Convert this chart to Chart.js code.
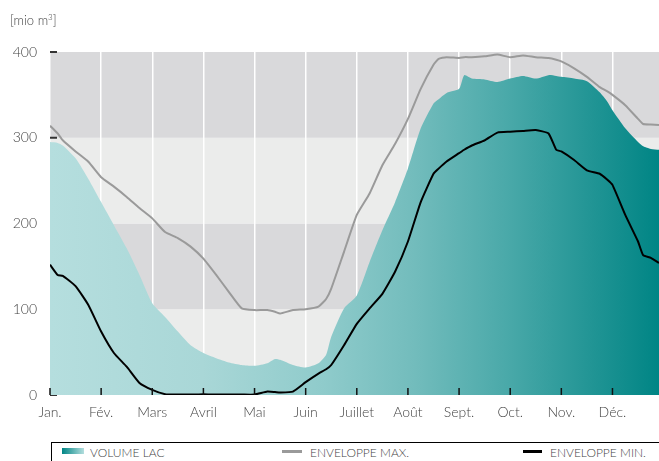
<!DOCTYPE html>
<html>
<head>
<meta charset="utf-8">
<script src="https://cdn.jsdelivr.net/npm/chart.js@4"></script>
<style>
    body { margin: 0; background: #fff; font-family: Lato, "Open Sans", sans-serif; font-weight: 300; color: #444; }
    #wrap { position: relative; width: 659px; height: 461px; overflow: hidden; }
    #chart { position: absolute; left: 0; top: 0; }
    #unit { position: absolute; left: 10px; top: 12px; font-size: 13px; }
    #unit sup { font-size: 8px; }
    #legend { position: absolute; left: 51px; top: 442px; width: 608px; height: 19px;
              border-top: 1.5px solid #000; border-left: 1.5px solid #000; font-size: 12px; }
    .item { position: absolute; top: 3px; height: 14px; line-height: 14px; }
    .swatch { position: absolute; top: 6px; }
</style>
</head>
<body>
<div id="wrap">
    <canvas id="chart" width="659" height="440"></canvas>
    <div id="unit">[mio m<sup>3</sup>]</div>
    <div id="legend">
        <div class="swatch" style="left:10px;width:22px;height:6px;top:5px;background:linear-gradient(to right,#008585,#b4dede);"></div>
        <div class="item" style="left:38px;">VOLUME LAC</div>
        <div class="swatch" style="left:230px;width:20px;height:2.5px;top:7px;background:#9a9a9a;"></div>
        <div class="item" style="left:258px;">ENVELOPPE MAX.</div>
        <div class="swatch" style="left:471px;width:19px;height:3px;top:7px;background:#000;"></div>
        <div class="item" style="left:498px;">ENVELOPPE MIN.</div>
    </div>
</div>
<script>
// Monate als Achsenbeschriftung
const monthLabels = ['Jan.', 'Fév.', 'Mars', 'Avril', 'Mai', 'Juin', 'Juillet', 'Août', 'Sept.', 'Oct.', 'Nov.', 'Déc.'];
const yTicks = [0, 100, 200, 300, 400];

// Zeitpunkte in Monaten (0 = 1. Januar)
const xMonth = [0, 0.15, 0.25, 0.5, 0.75, 1, 1.25, 1.5, 1.75, 2, 2.25, 2.5, 2.75, 3, 3.25, 3.5, 3.75, 4,
    4.25, 4.4, 4.5, 4.75, 5, 5.25, 5.4, 5.5, 5.75, 6, 6.25, 6.5, 6.75, 7, 7.25, 7.5, 7.6, 7.75, 8, 8.1,
    8.25, 8.5, 8.75, 9, 9.25, 9.5, 9.75, 9.9, 10, 10.25, 10.5, 10.75, 10.9, 11, 11.25, 11.5, 11.6, 11.75, 11.91];

// Volumen des Sees [mio m3]
const volumeLac = [295, 294, 291, 276, 252, 225, 198, 171, 140, 107, 91, 74, 58, 49, 43, 38, 35, 34,
    37, 42, 41, 35, 32, 37, 47, 68, 101, 116, 155, 192, 225, 264, 311, 340, 345, 352, 357, 373,
    369, 368, 365, 369, 372, 369, 373, 372, 371, 369, 366, 353, 342, 332, 311, 295, 290, 287, 286];

// Maximale Enveloppe
const enveloppeMax = [314, 305, 297, 284, 272, 254, 243, 231, 218, 206, 190, 183, 173, 159, 140, 120, 101, 99,
    99, 97, 95, 99, 100, 103, 112, 124, 167, 210, 235, 268, 293, 322, 357, 385, 392, 394, 393, 394,
    394, 395, 397, 394, 396, 394, 393, 391, 389, 381, 371, 359, 354, 350, 338, 322, 316, 315.5, 315];

// Minimale Enveloppe
const enveloppeMin = [152, 140, 139, 127, 105, 74, 49, 33, 14, 6, 1, 0.5, 0.5, 1, 0.5, 0.5, 0.5, 0.5,
    4, 3.5, 3, 4, 15, 25, 30, 35, 58, 83, 101, 118, 144, 179, 225, 258, 264, 272, 282, 286,
    291, 297, 306, 307, 308, 309, 305, 286, 284, 274, 262, 258, 251, 245, 210, 179, 163, 160, 154];

function toPoints(values) {
    return values.map((v, i) => ({ x: xMonth[i], y: v }));
}

// Hintergrundbänder und Tick-Striche
const decorPlugin = {
    id: 'decor',
    beforeDraw(chart) {
        const { ctx, chartArea, scales } = chart;
        ctx.save();
        for (let i = 0; i < yTicks.length - 1; i++) {
            const yTop = scales.y.getPixelForValue(yTicks[i + 1]);
            const yBot = scales.y.getPixelForValue(yTicks[i]);
            ctx.fillStyle = (i % 2 === 0) ? '#ebeceb' : '#d9d9db';
            ctx.fillRect(chartArea.left, yTop, chartArea.right - chartArea.left, yBot - yTop);
        }
        ctx.restore();
    },
    beforeDatasetsDraw(chart) {
        const { ctx, chartArea, scales } = chart;
        ctx.save();
        ctx.strokeStyle = '#333';
        ctx.lineWidth = 2;
        yTicks.forEach(v => {
            const y = scales.y.getPixelForValue(v);
            ctx.beginPath();
            ctx.moveTo(chartArea.left, y);
            ctx.lineTo(chartArea.left + 7, y);
            ctx.stroke();
        });
        ctx.restore();
    },
    afterDatasetsDraw(chart) {
        const { ctx, chartArea, scales } = chart;
        ctx.save();
        ctx.strokeStyle = '#111';
        ctx.lineWidth = 1.5;
        monthLabels.forEach((m, i) => {
            const x = scales.x.getPixelForValue(i);
            ctx.beginPath();
            ctx.moveTo(x, chartArea.bottom);
            ctx.lineTo(x, chartArea.bottom - 7);
            ctx.stroke();
        });
        ctx.restore();
    }
};

function lacGradient(context) {
    const area = context.chart.chartArea;
    if (!area) return '#7fc3c3';
    const g = context.chart.ctx.createLinearGradient(area.left, 0, area.right, 0);
    g.addColorStop(0, '#b5dede');
    g.addColorStop(0.25, '#a9d7d7');
    g.addColorStop(0.45, '#8fcbcb');
    g.addColorStop(0.6, '#72bcbc');
    g.addColorStop(0.75, '#4aa9a9');
    g.addColorStop(0.9, '#1e9393');
    g.addColorStop(1, '#008585');
    return g;
}

const tickFont = { family: 'Lato, "Open Sans", sans-serif', size: 14, weight: 300 };

new Chart(document.getElementById('chart'), {
    type: 'line',
    data: {
        datasets: [
            {
                label: 'VOLUME LAC',
                data: toPoints(volumeLac),
                fill: 'origin',
                backgroundColor: lacGradient,
                borderWidth: 0,
                pointRadius: 0,
                tension: 0.2,
                order: 3
            },
            {
                label: 'ENVELOPPE MAX.',
                data: toPoints(enveloppeMax),
                fill: false,
                borderColor: '#9a9a9a',
                borderWidth: 2,
                pointRadius: 0,
                tension: 0.15,
                order: 2
            },
            {
                label: 'ENVELOPPE MIN.',
                data: toPoints(enveloppeMin),
                fill: false,
                borderColor: '#000',
                borderWidth: 2,
                pointRadius: 0,
                tension: 0.15,
                order: 1
            }
        ]
    },
    options: {
        responsive: false,
        animation: false,
        devicePixelRatio: 1,
        layout: { padding: { top: 52, right: 0, left: 0, bottom: 0 } },
        plugins: {
            legend: { display: false },
            tooltip: { enabled: false }
        },
        scales: {
            x: {
                type: 'linear',
                min: 0,
                max: 11.91,
                afterFit(scale) { scale.height = 45; },
                afterBuildTicks(scale) { scale.ticks = monthLabels.map((m, i) => ({ value: i })); },
                grid: { color: '#ffffff', lineWidth: 1.5, drawTicks: false },
                border: { display: false },
                ticks: {
                    padding: 9,
                    color: '#444',
                    font: tickFont,
                    maxRotation: 0,
                    callback: (v) => monthLabels[v]
                }
            },
            y: {
                min: 0,
                max: 400,
                afterFit(scale) { scale.width = 50; },
                afterBuildTicks(scale) { scale.ticks = yTicks.map(v => ({ value: v })); },
                grid: { display: false, drawTicks: false },
                border: { display: false },
                ticks: {
                    padding: 13,
                    color: '#444',
                    font: tickFont
                }
            }
        }
    },
    plugins: [decorPlugin]
});
</script>
</body>
</html>
